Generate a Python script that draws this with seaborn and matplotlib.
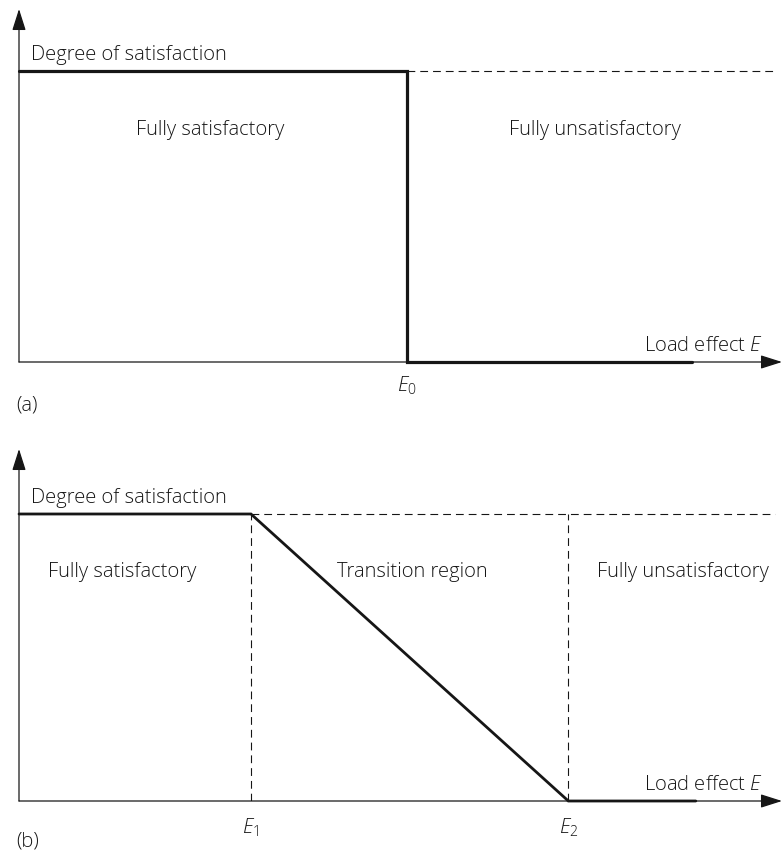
import matplotlib
matplotlib.use("Agg")
import matplotlib.pyplot as plt
import seaborn as sns
import pandas as pd

# data (E in fraction of horizontal axis length, satisfaction 0..1)
a_E = [0.0, 0.508, 0.508, 0.882]
a_sat = [1.0, 1.0, 0.0, 0.0]
b_E = [0.0, 0.304, 0.72, 0.887]
b_sat = [1.0, 1.0, 0.0, 0.0]
E0 = 0.508
E1 = 0.304
E2 = 0.72
dash_end = 0.991

sns.set_theme(style="white")
plt.rcParams['font.family'] = ['Open Sans', 'DejaVu Sans']
plt.rcParams['font.weight'] = 'light'
plt.rcParams['mathtext.fontset'] = 'custom'
plt.rcParams['mathtext.it'] = 'Open Sans:italic:light'
plt.rcParams['mathtext.rm'] = 'Open Sans:light'

fig = plt.figure(figsize=(7.82, 8.53), dpi=100)
FS = 14.5
col = "#161616"
DASH = (0, (7, 4.5))


def setup(ax, ytop):
    ax.set_xlim(0, 1.0)
    ax.set_ylim(0, ytop)
    for s in ax.spines.values():
        s.set_visible(False)
    ax.set_xticks([])
    ax.set_yticks([])
    ax.patch.set_alpha(0)
    # axes with arrows
    ax.annotate("", xy=(1.0, 0), xytext=(0, 0), xycoords="axes fraction",
                arrowprops=dict(arrowstyle="-|>,head_length=1.1,head_width=0.35",
                                lw=0.9, color=col, shrinkA=0, shrinkB=0))
    ax.annotate("", xy=(0, 1.0), xytext=(0, 0), xycoords="axes fraction",
                arrowprops=dict(arrowstyle="-|>,head_length=1.1,head_width=0.35",
                                lw=0.9, color=col, shrinkA=0, shrinkB=0))
    ax.text(0.016, 1.025, "Degree of satisfaction", fontsize=FS, color=col,
            ha="left", va="bottom")
    ax.text(0.975, 0.025, r"Load effect $E$", fontsize=FS, color=col,
            ha="right", va="bottom")


def curve(ax, E, sat, lw):
    df = pd.DataFrame({"E": E, "sat": sat})
    sns.lineplot(data=df, x="E", y="sat", sort=False, estimator=None,
                 errorbar=None, ax=ax, color=col, lw=lw,
                 solid_joinstyle="miter", clip_on=False)
    ax.set_xlabel("")
    ax.set_ylabel("")


# panel (a)
ax1 = fig.add_axes([19 / 782, (853 - 363) / 853, 763 / 782, 353 / 853])
setup(ax1, 353 / 291)
curve(ax1, a_E, a_sat, 2.3)
ax1.plot([E0, dash_end], [1, 1], ls=DASH, lw=0.8, color=col)
ax1.text(0.25, 0.80, "Fully satisfactory", fontsize=FS, color=col, ha="center", va="center")
ax1.text(0.755, 0.80, "Fully unsatisfactory", fontsize=FS, color=col, ha="center", va="center")
ax1.text(E0, -0.08, r"$E_\mathrm{0}$", fontsize=FS, color=col, ha="center", va="center")
ax1.text(0.011, -0.145, "(a)", fontsize=FS, color=col, ha="center", va="center")

# panel (b)
ax2 = fig.add_axes([19 / 782, (853 - 802) / 853, 763 / 782, 352 / 853])
setup(ax2, 352 / 287)
curve(ax2, b_E, b_sat, 2.0)
ax2.plot([E1, dash_end], [1, 1], ls=DASH, lw=0.8, color=col)
ax2.plot([E1, E1], [0, 1], ls=DASH, lw=0.8, color=col)
ax2.plot([E2, E2], [0, 1], ls=DASH, lw=0.8, color=col)
ax2.text(0.135, 0.80, "Fully satisfactory", fontsize=FS, color=col, ha="center", va="center")
ax2.text(0.515, 0.80, "Transition region", fontsize=FS, color=col, ha="center", va="center")
ax2.text(0.87, 0.80, "Fully unsatisfactory", fontsize=FS, color=col, ha="center", va="center")
ax2.text(E1, -0.09, r"$E_\mathrm{1}$", fontsize=FS, color=col, ha="center", va="center")
ax2.text(E2, -0.09, r"$E_\mathrm{2}$", fontsize=FS, color=col, ha="center", va="center")
ax2.text(0.011, -0.138, "(b)", fontsize=FS, color=col, ha="center", va="center")

fig.savefig("out.png", dpi=100)
